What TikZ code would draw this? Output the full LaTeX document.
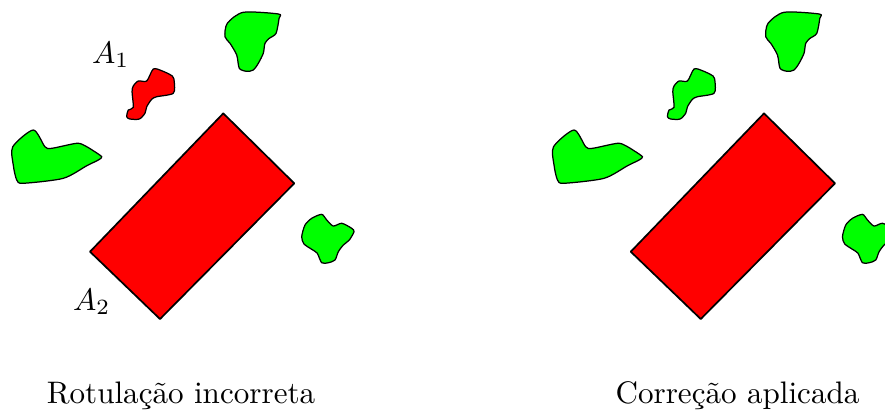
\documentclass[tikz,border=0pt]{standalone}
\usepackage{xcolor}
\usepackage{tikz}
\usetikzlibrary{positioning}
\definecolor{wrongred}{RGB}{255,0,0}
\definecolor{rightgreen}{RGB}{0,255,0}

\begin{document}
\begin{tikzpicture}[
    outline/.style={draw=black, line width=0.55pt, line join=round},
    blob/.style={outline, smooth cycle, tension=0.45},
    lbl/.style={anchor=base, inner sep=0pt}]
    \useasboundingbox (0, 0) rectangle (10, 4.633);

    % ── both panels: same scene, only the small region changes colour ──
    \foreach \sx/\col in {0/wrongred, 6.11/rightgreen}{
    \begin{scope}[xshift=\sx cm]
        % large region
        \draw[outline, fill=wrongred] (2.523, 3.352) -- (3.325, 2.561) -- (1.808, 1.028) -- (1.017, 1.789) -- cycle;

        % top region
        \filldraw[fill=rightgreen] plot[blob] coordinates {(2.749, 4.494) (3.145, 4.475) (3.153, 4.426) (3.119, 4.256) (3.043, 4.200) (2.994, 4.144) (2.975, 4.031) (2.919, 3.918) (2.862, 3.842) (2.788, 3.827) (2.704, 3.861) (2.675, 4.011) (2.599, 4.144) (2.542, 4.218) (2.568, 4.369)};

        % small region (A1)
        \filldraw[fill=\col] plot[blob] coordinates {(1.732, 3.853) (1.827, 3.834) (1.947, 3.774) (1.969, 3.710) (1.958, 3.579) (1.771, 3.540) (1.714, 3.511) (1.658, 3.427) (1.638, 3.353) (1.574, 3.288) (1.469, 3.288) (1.432, 3.314) (1.450, 3.390) (1.506, 3.420) (1.492, 3.597) (1.506, 3.661) (1.563, 3.718) (1.658, 3.718)};

        % left region
        \filldraw[fill=rightgreen] plot[blob] coordinates {(0.376, 3.164) (0.508, 2.975) (0.584, 2.957) (0.867, 3.014) (0.960, 2.986) (1.054, 2.930) (1.149, 2.862) (1.111, 2.825) (0.980, 2.760) (0.715, 2.618) (0.263, 2.562) (0.189, 2.599) (0.150, 2.768) (0.144, 2.975)};

        % right region
        \filldraw[fill=rightgreen] plot[blob] coordinates {(3.635, 2.211) (3.692, 2.147) (3.766, 2.079) (3.861, 2.110) (3.974, 2.053) (4.000, 2.015) (3.947, 1.921) (3.879, 1.864) (3.823, 1.789) (3.785, 1.695) (3.710, 1.664) (3.635, 1.664) (3.585, 1.771) (3.522, 1.816) (3.435, 1.876) (3.409, 1.958) (3.446, 2.090) (3.522, 2.166)};
    \end{scope}
    }

    % Labels
    \node[lbl] (a1) at (1.252, 3.918) {$A_1$};
    \node[lbl] (a2) at (1.036, 1.130) {$A_2$};

    % Captions
    \node[lbl] (capwrong) at (2.045, 0.076) {Rotulação incorreta};
    \node[lbl] (capright) at (8.333, 0.076) {Correção aplicada};
\end{tikzpicture}
\end{document}
